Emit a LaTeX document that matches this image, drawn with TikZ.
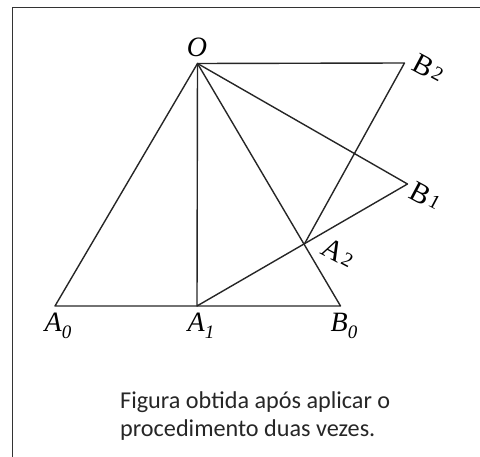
\documentclass[tikz,border=0pt]{standalone}
\usepackage{fontspec}
\usetikzlibrary{calc}
\setmainfont{Liberation Serif}
\newfontfamily\capfont{Carlito}
\begin{document}
\begin{tikzpicture}[x=1pt,y=-1pt,
  edge/.style={line width=1.4pt,draw=black!85,line join=round},
  lbl/.style={inner sep=0pt,font=\fontsize{28}{28}\selectfont},
  rlbl/.style={inner sep=0pt,font=\fontsize{29}{29}\selectfont,rotate=-28}]
\useasboundingbox (0,0) rectangle (480,457);
\draw[line width=1.6pt,draw=black!80] (12.5,457) -- (12.5,7.5) -- (480,7.5);
\coordinate (O) at (197.5,63.5);
\coordinate (A0) at (55,306);
\coordinate (A1) at (197,306);
\coordinate (B0) at (340.5,306);
\coordinate (B1) at (407.5,184);
\coordinate (A2) at ($(O)!0.746!(B0)$);
\coordinate (B2) at (404.5,63);
\draw[edge] (O) -- (A0) -- (B0) -- cycle;
\draw[edge] (O) -- (A1) -- (B1) -- cycle;
\draw[edge] (O) -- (B2) -- (A2);
\node[lbl] (lO) at (197,47) {\textit{O}};
\node[lbl] (lA0) at (58,326) {\textit{A}\raisebox{-0.25em}{\fontsize{19}{19}\selectfont\textit{0}}};
\node[lbl] (lA1) at (201,326) {\textit{A}\raisebox{-0.25em}{\fontsize{19}{19}\selectfont\textit{1}}};
\node[lbl] (lB0) at (344,326) {\textit{B}\raisebox{-0.25em}{\fontsize{19}{19}\selectfont\textit{0}}};
\node[rlbl] (lB2) at (429,68) {B\kern0.06em\raisebox{0.05em}{\fontsize{20}{20}\selectfont 2}};
\node[rlbl] (lB1) at (426,196) {B\kern0.06em\raisebox{0.05em}{\fontsize{20}{20}\selectfont 1}};
\node[rlbl] (lA2) at (338,253) {A\kern0.06em\raisebox{0.05em}{\fontsize{20}{20}\selectfont 2}};
\node[anchor=base west,inner sep=0pt,align=left,font=\capfont\fontsize{24.2}{28.3}\selectfont,text=black!85] (cap) at (120,436.6) {Figura obtida após aplicar o\\procedimento duas vezes.};
\end{tikzpicture}
\end{document}
